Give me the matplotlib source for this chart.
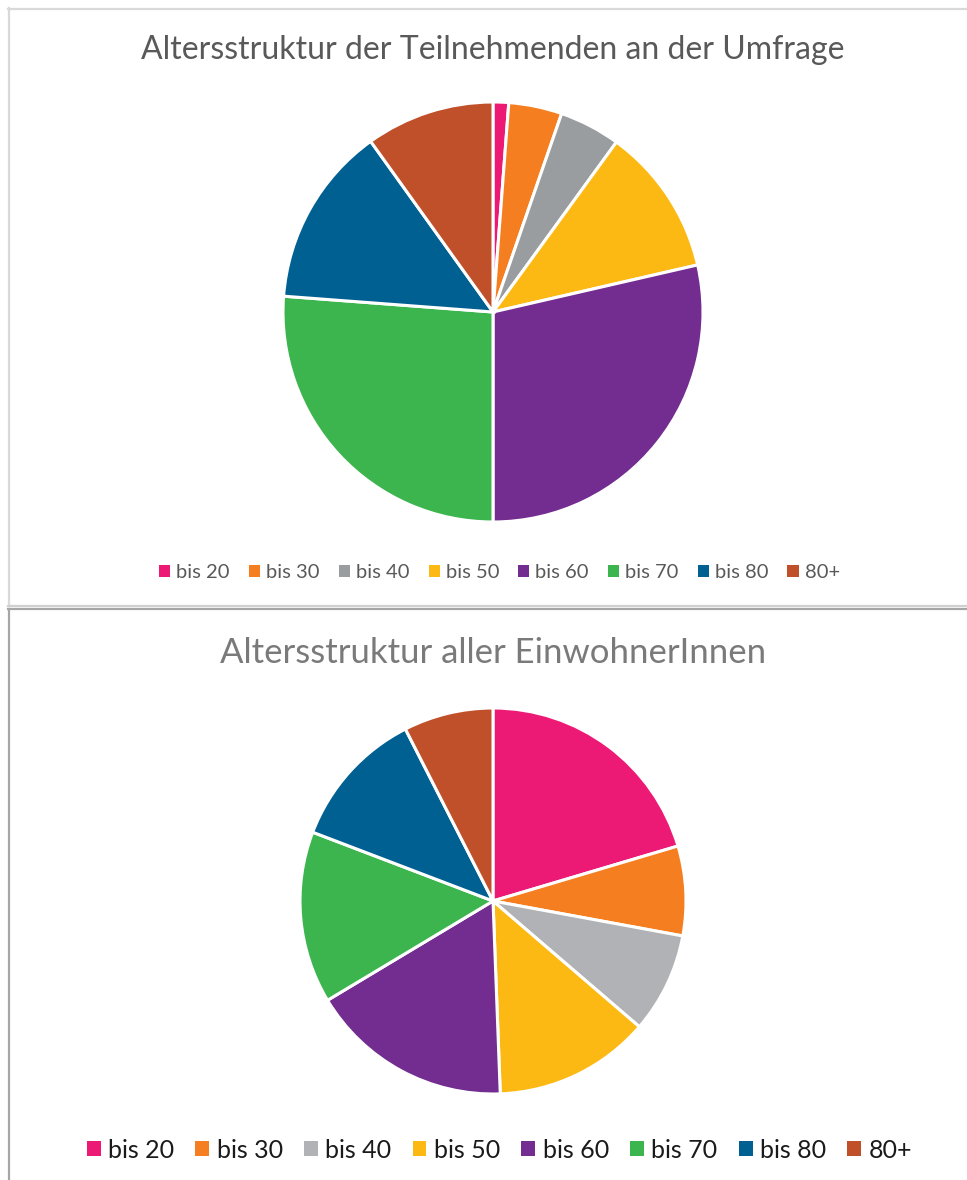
import matplotlib
matplotlib.use("Agg")
import matplotlib.pyplot as plt
from matplotlib.patches import Patch
from matplotlib.lines import Line2D

plt.rcParams['font.family'] = ['Lato', 'DejaVu Sans']

# Daten
labels = ["bis 20", "bis 30", "bis 40", "bis 50", "bis 60", "bis 70", "bis 80", "80+"]
umfrage = [1.2, 4.1, 4.7, 11.4, 28.6, 26.2, 13.9, 9.9]
einwohner = [20.4, 7.5, 8.4, 13.1, 17.0, 14.4, 11.7, 7.5]

colors_top = ["#ED1A75", "#F47E20", "#9A9DA0", "#FDB913", "#732C8F", "#3DB54E", "#006092", "#C0502A"]
colors_bot = ["#ED1A75", "#F47E20", "#B1B2B5", "#FDB913", "#732C8F", "#3DB54E", "#006092", "#C0502A"]

W, H = 967, 1180
fig = plt.figure(figsize=(W / 100, H / 100), dpi=100)


def px_axes(cx, cy, r):
    # Achse in Pixelkoordinaten (y von oben)
    return fig.add_axes([(cx - r) / W, (H - cy - r) / H, 2 * r / W, 2 * r / H])


def draw_pie(ax, values, colors):
    ax.pie(values, colors=colors, startangle=90, counterclock=False, radius=1,
           wedgeprops=dict(edgecolor="white", linewidth=2.2))
    ax.set_xlim(-1, 1)
    ax.set_ylim(-1, 1)
    ax.set_aspect("equal")
    ax.axis("off")


def draw_legend(colors, y, fontsize, color, colspace, hsize):
    handles = [Patch(facecolor=c, edgecolor="none") for c in colors]
    leg = fig.legend(handles, labels, loc="center", bbox_to_anchor=(0.5 + 16 / W, 1 - y / H),
                     ncol=8, frameon=False, fontsize=fontsize, handlelength=hsize,
                     handleheight=hsize, handletextpad=0.3, columnspacing=colspace)
    for t in leg.get_texts():
        t.set_color(color)


# oberes Diagramm
ax1 = px_axes(493, 312, 210)
draw_pie(ax1, umfrage, colors_top)
fig.text(493 / W, 1 - 50 / H, "Altersstruktur der Teilnehmenden an der Umfrage",
         ha="center", va="center", fontsize=23, color="#595959")
draw_legend(colors_top, 573, 14.5, "#595959", 0.95, 0.55)

# unteres Diagramm
ax2 = px_axes(493, 901, 193)
draw_pie(ax2, einwohner, colors_bot)
fig.text(493 / W, 1 - 653 / H, "Altersstruktur aller EinwohnerInnen",
         ha="center", va="center", fontsize=25, color="#7a7a7a")
draw_legend(colors_bot, 1150, 18, "#1a1a1a", 0.85, 0.55)

# Rahmen
def hline(y, x0, x1, c):
    fig.add_artist(Line2D([x0 / W, x1 / W], [1 - y / H, 1 - y / H], color=c, lw=1.6))


def vline(x, y0, y1, c):
    fig.add_artist(Line2D([x / W, x / W], [1 - y0 / H, 1 - y1 / H], color=c, lw=1.6))


hline(8.5, 8, W, "#d9d9d9")
vline(8.5, 8, 606, "#d9d9d9")
hline(606, 8, W, "#d0d0d0")
hline(609, 8, W, "#a6a6a6")
vline(8.5, 609, H, "#a6a6a6")

fig.savefig("out.png", dpi=100)
